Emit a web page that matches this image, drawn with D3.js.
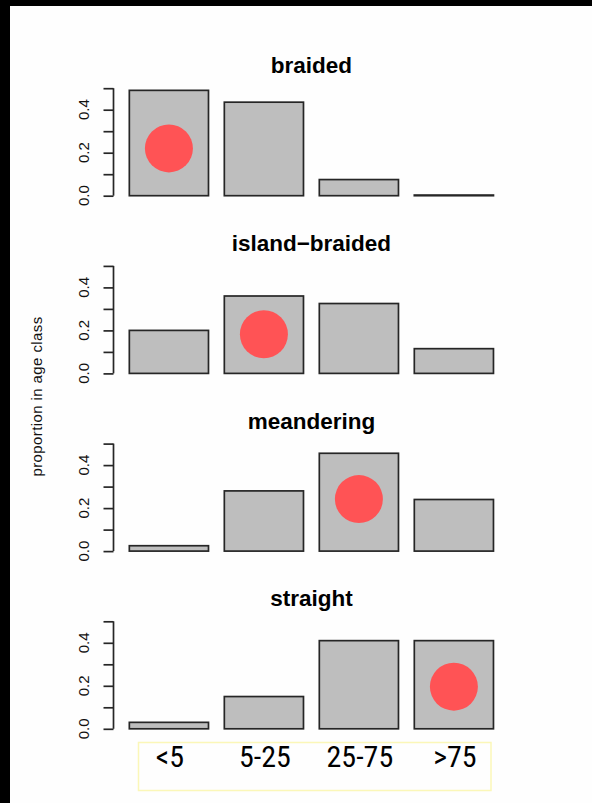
<!DOCTYPE html>
<html>
<head>
<meta charset="utf-8">
<script src="https://cdn.jsdelivr.net/npm/d3@7/dist/d3.min.js"></script>
<style>
  html, body { margin: 0; padding: 0; background: #000; }
  svg { display: block; }
</style>
</head>
<body>
<script>
// Age-class proportions by channel type
const ageClasses = ["<5", "5-25", "25-75", ">75"];
const channelTypes = ["braided", "island\u2212braided", "meandering", "straight"];
const braided = [0.49, 0.435, 0.075, 0.003];
const islandBraided = [0.2, 0.36, 0.325, 0.115];
const meandering = [0.025, 0.28, 0.455, 0.24];
const straight = [0.03, 0.15, 0.41, 0.41];
// highlighted class and the level of its marker in each panel
const markerClass = ["<5", "5-25", "25-75", ">75"];
const markerLevel = [0.22, 0.182, 0.242, 0.196];
const yTicks = [0, 0.1, 0.2, 0.3, 0.4, 0.5];
const yTickLabels = ["0.0", "0.2", "0.4"];
const yLabel = "proportion in age class";

const series = [braided, islandBraided, meandering, straight];

const W = 592, H = 803;
const svg = d3.select("body").append("svg")
  .attr("width", W).attr("height", H);

// page frame
svg.append("rect").attr("x", 0).attr("y", 0).attr("width", W).attr("height", H).attr("fill", "#000");
svg.append("rect").attr("x", 10).attr("y", 6).attr("width", W - 10).attr("height", H - 6).attr("fill", "#fefefe");

const font = "'Liberation Sans', Arial, Helvetica, sans-serif";

const x = d3.scaleBand()
  .domain(ageClasses)
  .range([113.5, 509.3])
  .paddingInner(1 / 6)
  .paddingOuter(1 / 6);

const panelBase = 195.7, panelStep = 177.7, panelHeight = 107.5;

series.forEach((vals, i) => {
  const y0 = panelBase + i * panelStep;
  const y = d3.scaleLinear().domain([0, 0.5]).range([y0, y0 - panelHeight]);
  const g = svg.append("g");

  // panel title
  g.append("text")
    .attr("x", (x.range()[0] + x.range()[1]) / 2)
    .attr("y", y0 - 122.5)
    .attr("text-anchor", "middle")
    .attr("font-family", font)
    .attr("font-weight", "bold")
    .attr("font-size", 22.5)
    .attr("fill", "#000")
    .text(channelTypes[i]);

  // bars
  g.selectAll("rect.bar")
    .data(vals.map((v, j) => ({ k: ageClasses[j], v })))
    .join("rect")
    .attr("class", "bar")
    .attr("x", d => x(d.k))
    .attr("width", x.bandwidth())
    .attr("y", d => y(d.v))
    .attr("height", d => y(0) - y(d.v))
    .attr("fill", "#bebebe")
    .attr("stroke", "#262626")
    .attr("stroke-width", 1.7);

  // marker
  g.append("circle")
    .attr("cx", x(markerClass[i]) + x.bandwidth() / 2)
    .attr("cy", y(markerLevel[i]))
    .attr("r", 24)
    .attr("fill", "#ff5355");

  // y axis
  const axis = d3.axisLeft(y)
    .tickValues(yTicks)
    .tickSize(10)
    .tickFormat("");
  const ag = g.append("g")
    .attr("transform", `translate(${x.range()[0]},0)`)
    .call(axis);
  ag.select(".domain")
    .attr("d", `M0,${y(0)}V${y(0.5)}`)
    .attr("stroke", "#262626").attr("stroke-width", 1.7);
  ag.selectAll(".tick line").attr("stroke", "#262626").attr("stroke-width", 1.7);

  yTickLabels.forEach(lbl => {
    const v = +lbl;
    g.append("text")
      .attr("transform", `translate(89,${y(v)}) rotate(-90)`)
      .attr("text-anchor", "middle")
      .attr("font-family", font)
      .attr("font-size", 15)
      .attr("fill", "#111")
      .text(lbl);
  });
});

// shared y-axis title
svg.append("text")
  .attr("transform", `translate(41.5,396.5) rotate(-90)`)
  .attr("text-anchor", "middle")
  .attr("font-family", font)
  .attr("font-size", 15)
  .attr("letter-spacing", 0.4)
  .attr("fill", "#111")
  .text(yLabel);

// age-class labels in their box
svg.append("rect")
  .attr("x", 138.5).attr("y", 742.5)
  .attr("width", 352.5).attr("height", 48)
  .attr("fill", "none")
  .attr("stroke", "#fbf7b8")
  .attr("stroke-width", 1.5);

svg.append("g").selectAll("text")
  .data(ageClasses)
  .join("text")
  .attr("x", d => x(d) + x.bandwidth() / 2 + 1)
  .attr("y", 767)
  .attr("text-anchor", "middle")
  .attr("font-family", "'Liberation Sans Narrow', 'Roboto Condensed', 'DejaVu Sans Condensed', sans-serif")
  .attr("font-stretch", "condensed")
  .attr("font-size", 30)
  .attr("fill", "#000")
  .text(d => d);
</script>
</body>
</html>
